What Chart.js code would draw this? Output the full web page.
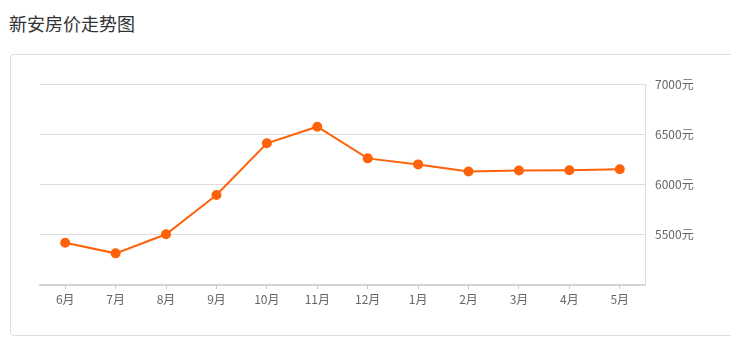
<!DOCTYPE html>
<html lang="zh">
<head>
<meta charset="UTF-8">
<title>新安房价走势图</title>
<script src="https://cdn.jsdelivr.net/npm/chart.js"></script>
<style>
    body { margin: 0; background: #fff; font-family: "Noto Sans CJK SC", sans-serif; }
    .title { position: absolute; left: 9px; top: 10px; font-size: 18px; color: #333; }
    .box { position: absolute; left: 10px; top: 54px; width: 740px; height: 280px;
           border: 1px solid #ddd; border-radius: 4px; }
    .wrap { position: absolute; left: 0; top: 0; width: 731px; height: 347px; }
</style>
</head>
<body>
<div class="title">新安房价走势图</div>
<div class="box"></div>
<div class="wrap"><canvas id="priceChart"></canvas></div>

<script>
    // 月份和价格
    const months = ['6月', '7月', '8月', '9月', '10月', '11月', '12月', '1月', '2月', '3月', '4月', '5月'];
    const prices = [5420, 5315, 5505, 5895, 6410, 6575, 6260, 6200, 6130, 6140, 6142, 6152];
    const yTicks = [5500, 6000, 6500, 7000];

    const ctx = document.getElementById('priceChart').getContext('2d');
    new Chart(ctx, {
        type: 'line',
        data: {
            labels: months,
            datasets: [{
                data: prices,
                borderColor: '#ff6208',
                backgroundColor: '#ff6208',
                borderWidth: 2,
                pointRadius: 4,
                pointHoverRadius: 4,
                tension: 0,
            }],
        },
        options: {
            responsive: true,
            maintainAspectRatio: false,
            animation: false,
            layout: { padding: { left: 40, top: 84, right: 0, bottom: 0 } },
            plugins: { legend: { display: false }, tooltip: { enabled: false } },
            scales: {
                x: {
                    offset: true,
                    grid: { display: true, drawOnChartArea: false, drawTicks: true, tickLength: 4, color: '#ccc' },
                    border: { display: true, color: '#d4d4d4', width: 2 },
                    ticks: { color: '#666', font: { family: 'Noto Sans CJK SC', size: 12 }, padding: 3, maxRotation: 0 },
                    afterFit: (s) => { s.height = 62; },
                },
                y: {
                    position: 'right',
                    min: 5000,
                    max: 7000,
                    afterBuildTicks: (s) => { s.ticks = [5000].concat(yTicks).map(v => ({ value: v })); },
                    grid: { color: '#dcdcdc', drawTicks: false, lineWidth: 1 },
                    border: { display: true, color: '#dcdcdc' },
                    ticks: {
                        color: '#666',
                        font: { family: 'Noto Sans CJK SC', size: 12 },
                        padding: 10,
                        callback: (v) => yTicks.includes(v) ? v + '元' : '',
                    },
                    afterFit: (s) => { s.width = 86; },
                },
            },
        },
    });
</script>
</body>
</html>
